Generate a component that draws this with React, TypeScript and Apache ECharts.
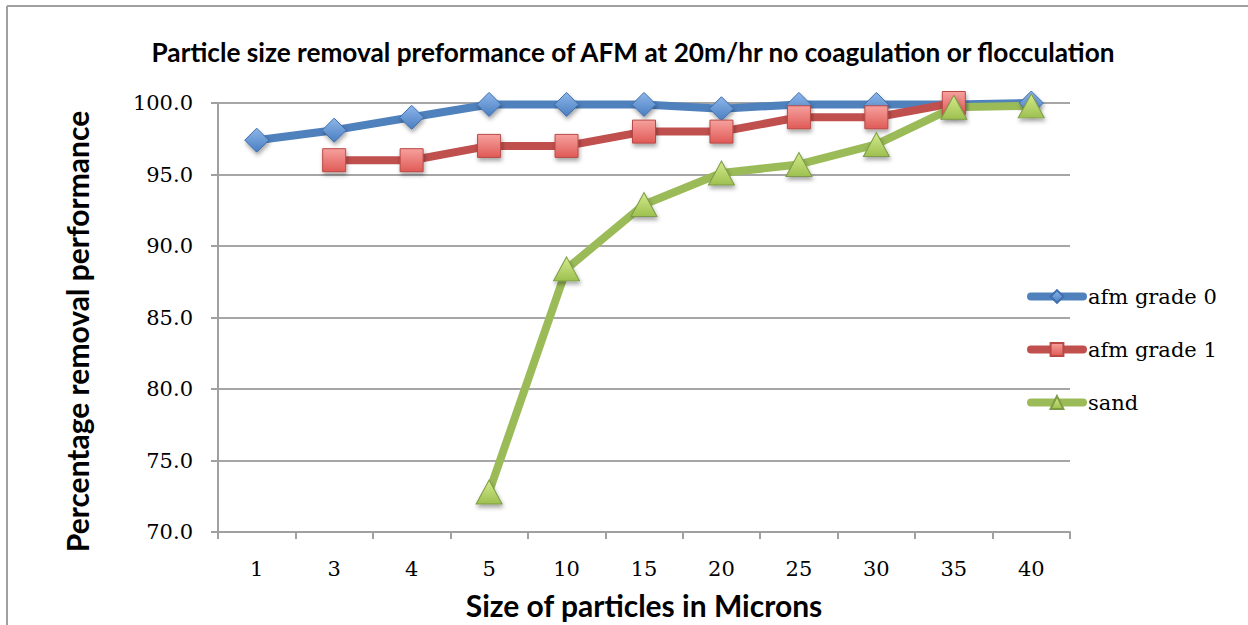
import React, { useEffect, useRef } from "react";
import * as echarts from "echarts";

const categories = ["1", "3", "4", "5", "10", "15", "20", "25", "30", "35", "40"];
const afmGrade0 = [97.4, 98.1, 99.0, 99.9, 99.9, 99.9, 99.6, 99.9, 99.9, 99.9, 100.0];
const afmGrade1 = [null, 96.0, 96.0, 97.0, 97.0, 98.0, 98.0, 99.0, 99.0, 100.0, null];
const sand = [null, null, null, 72.8, 88.4, 92.9, 95.1, 95.7, 97.1, 99.7, 99.8];
const yTicks = { min: 70, max: 100, interval: 5 };

const titleText = "Particle size removal preformance of AFM at 20m/hr no coagulation or flocculation";
const serif = "DejaVu Serif";
const sans = "Lato";

function grad(top: string, bottom: string) {
  return new echarts.graphic.LinearGradient(0, 0, 0, 1, [
    { offset: 0, color: top },
    { offset: 1, color: bottom },
  ]);
}

export default function App() {
  const ref = useRef<HTMLDivElement>(null);
  useEffect(() => {
    if (!ref.current) return;
    const chart = echarts.init(ref.current, undefined, { renderer: "svg" });
    const markerShadow = {
      shadowBlur: 4,
      shadowOffsetX: 1,
      shadowOffsetY: 3,
      shadowColor: "rgba(0,0,0,0.35)",
    };
    chart.setOption({
      animation: false,
      backgroundColor: "#ffffff",
      title: {
        text: titleText,
        left: 628,
        top: 34,
        textAlign: "center",
        textStyle: { fontFamily: sans, fontWeight: "bold", fontSize: 26.2, color: "#000" },
      },
      graphic: [
        { type: "line", shape: { x1: 7, y1: 6, x2: 1248, y2: 6 }, style: { stroke: "#A0A0A0", lineWidth: 2 } },
        { type: "line", shape: { x1: 7, y1: 6, x2: 7, y2: 625 }, style: { stroke: "#A0A0A0", lineWidth: 2 } },
      ],
      legend: {
        orient: "vertical",
        left: 1027,
        top: 286,
        padding: 0,
        itemWidth: 52,
        itemHeight: 16,
        itemGap: 32,
        lineStyle: { width: 8, cap: "round" },
        textStyle: { fontFamily: serif, fontSize: 21, color: "#000" },
        data: ["afm grade 0", "afm grade 1", "sand"],
      },
      grid: { left: 218, right: 178, top: 103, bottom: 92 },
      xAxis: {
        type: "category",
        data: categories,
        boundaryGap: true,
        name: "Size of particles in Microns",
        nameLocation: "middle",
        nameGap: 58,
        nameTextStyle: { fontFamily: sans, fontWeight: "bold", fontSize: 30, color: "#000" },
        axisLine: { lineStyle: { color: "#A0A0A0", width: 2 } },
        axisTick: { show: true, length: 7, lineStyle: { color: "#A0A0A0", width: 2 } },
        axisLabel: { fontFamily: serif, fontSize: 21, color: "#000", margin: 26 },
      },
      yAxis: {
        type: "value",
        min: yTicks.min,
        max: yTicks.max,
        interval: yTicks.interval,
        name: "Percentage removal performance",
        nameLocation: "middle",
        nameGap: 126,
        nameTextStyle: {
          fontFamily: sans,
          fontWeight: "bold",
          fontSize: 30,
          color: "#000",
          padding: [0, 28, 0, 0],
        },
        axisLine: { show: true, lineStyle: { color: "#A0A0A0", width: 2 } },
        axisTick: { show: true, length: 7, lineStyle: { color: "#A0A0A0", width: 2 } },
        axisLabel: {
          fontFamily: serif,
          fontSize: 21,
          color: "#000",
          margin: 25,
          formatter: (v: number) => v.toFixed(1),
        },
        splitLine: { lineStyle: { color: "#A6A6A6", width: 2 } },
      },
      series: [
        {
          name: "afm grade 0",
          type: "line",
          data: afmGrade0,
          symbol: "diamond",
          symbolSize: 24,
          lineStyle: { color: "#4F81BD", width: 8 },
          itemStyle: { color: grad("#8DB6EA", "#4A7EC0"), borderColor: "#3E6FAE", borderWidth: 1, ...markerShadow },
        },
        {
          name: "afm grade 1",
          type: "line",
          data: afmGrade1,
          symbol: "rect",
          symbolSize: 23,
          lineStyle: { color: "#C0504D", width: 8 },
          itemStyle: { color: grad("#F6A19E", "#E05A56"), borderColor: "#B84946", borderWidth: 1, ...markerShadow },
        },
        {
          name: "sand",
          type: "line",
          data: sand,
          symbol: "triangle",
          symbolSize: [26, 24],
          lineStyle: { color: "#9BBB59", width: 8 },
          itemStyle: { color: grad("#D3EB8C", "#9DC050"), borderColor: "#7E9B46", borderWidth: 1, ...markerShadow },
        },
      ],
    });
    return () => chart.dispose();
  }, []);
  return (
    <div
      ref={ref}
      style={{ position: "fixed", left: 0, top: 0, width: 1248, height: 625 }}
    />
  );
}
